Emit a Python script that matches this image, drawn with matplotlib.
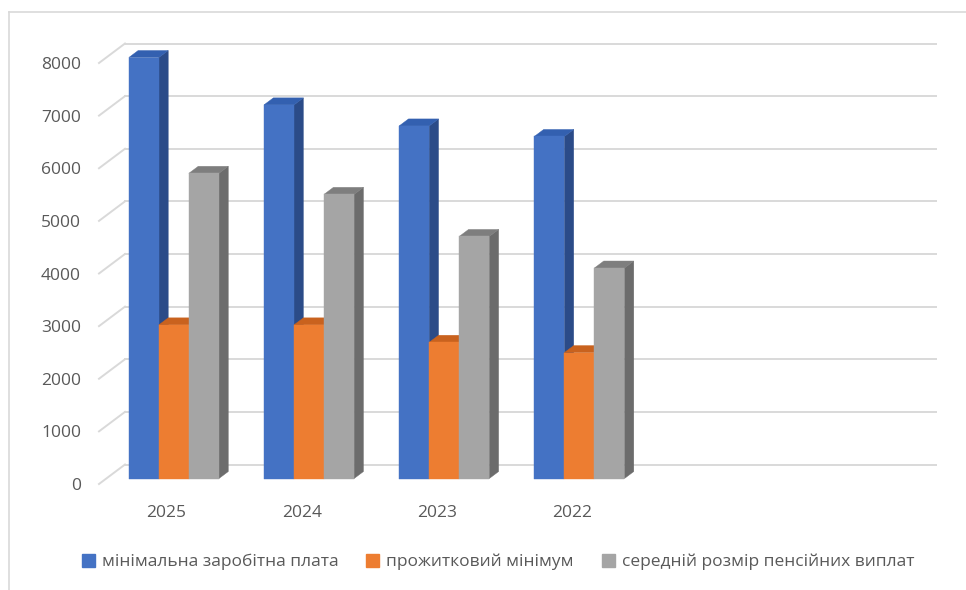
import matplotlib
matplotlib.use('Agg')
import matplotlib.pyplot as plt
from matplotlib.patches import Polygon, Patch
from matplotlib.lines import Line2D

# ---- data ----
years = ['2025', '2024', '2023', '2022']
series_names = ['мінімальна заробітна плата', 'прожитковий мінімум',
                'середній розмір пенсійних виплат']
min_wage = [8000, 7100, 6700, 6500]
subsistence = [2920, 2920, 2589, 2393]
pension = [5800, 5400, 4600, 4000]
y_ticks = [0, 1000, 2000, 3000, 4000, 5000, 6000, 7000, 8000]

# ---- style ----
front_colors = ['#4472C4', '#ED7D31', '#A5A5A5']
side_colors = ['#2B4B88', '#B0561A', '#6C6C6C']
top_colors = ['#3360B0', '#C9621E', '#7E7E7E']
grid_color = '#D9D9D9'
text_color = '#595959'
FONT = ['Open Sans', 'DejaVu Sans']
plt.rcParams['font.family'] = FONT

N_SLOTS = 6            # category slots on the axis (last two empty)
DEPTH_PX = (26, 19.5)  # pseudo-3D depth offset in pixels
D_FRONT, D_BACK = 0.28, 0.64

W, H, DPI = 966, 590, 100
fig = plt.figure(figsize=(W / DPI, H / DPI), dpi=DPI)
ax_left, ax_right, ax_bottom, ax_top = 99, 910, 484, 63
ax = fig.add_axes([ax_left / W, 1 - ax_bottom / H,
                   (ax_right - ax_left) / W, (ax_bottom - ax_top) / H])
ax.set_xlim(0, N_SLOTS)
ax.set_ylim(0, 8000)

p0 = ax.transData.transform((0, 0))
p1 = ax.transData.transform((1, 1000))
ddx = DEPTH_PX[0] / (p1[0] - p0[0])
ddy = DEPTH_PX[1] / ((p1[1] - p0[1]) / 1000)


def P(x, y, d):
    return (x + d * ddx, y + d * ddy)


# gridlines: back wall + side wall diagonals
for t in y_ticks:
    a, b = P(0, t, 1), P(N_SLOTS, t, 1)
    ax.add_line(Line2D([a[0], b[0]], [a[1], b[1]], color=grid_color, lw=1.4,
                       zorder=1, clip_on=False))
    c = P(0, t, 0)
    ax.add_line(Line2D([c[0], a[0]], [c[1], a[1]], color=grid_color, lw=1.4,
                       zorder=1, clip_on=False))

series = [min_wage, subsistence, pension]
bw = (2 / 3) / 3
for k in range(len(years)):
    for s, vals in enumerate(series):
        v = vals[k]
        x0 = k + 1 / 6 + s * bw
        x1 = x0 + bw
        z = 2 + k * 3 + s
        side = [P(x1, 0, D_FRONT), P(x1, 0, D_BACK), P(x1, v, D_BACK), P(x1, v, D_FRONT)]
        top = [P(x0, v, D_FRONT), P(x1, v, D_FRONT), P(x1, v, D_BACK), P(x0, v, D_BACK)]
        front = [P(x0, 0, D_FRONT), P(x1, 0, D_FRONT), P(x1, v, D_FRONT), P(x0, v, D_FRONT)]
        for pts, col in ((side, side_colors[s]), (top, top_colors[s]), (front, front_colors[s])):
            ax.add_patch(Polygon(pts, closed=True, facecolor=col, edgecolor=col,
                                 lw=0.3, zorder=z, clip_on=False))

for sp in ax.spines.values():
    sp.set_visible(False)
ax.set_yticks(y_ticks)
ax.set_yticklabels([str(t) for t in y_ticks])
ax.set_xticks([k + 0.5 for k in range(len(years))])
ax.set_xticklabels(years)
ax.tick_params(axis='y', length=0, pad=13, labelsize=12.5, labelcolor=text_color)
ax.tick_params(axis='x', length=0, pad=15, labelsize=12.5, labelcolor=text_color)
ax.set_facecolor('none')

# outer chart border (left and top)
fig.add_artist(Line2D([9 / W, 9 / W], [0, 1 - 12 / H], color=grid_color, lw=1.2,
                      transform=fig.transFigure))
fig.add_artist(Line2D([9 / W, 1], [1 - 12 / H, 1 - 12 / H], color=grid_color, lw=1.2,
                      transform=fig.transFigure))

handles = [Patch(facecolor=c, edgecolor=c) for c in front_colors]
fig.legend(handles, series_names, loc='center', bbox_to_anchor=(498 / W, 1 - 562 / H),
           ncol=3, frameon=False, fontsize=12.5, labelcolor=text_color,
           handlelength=0.75, handleheight=0.75, handletextpad=0.4, columnspacing=1.6)

fig.savefig('out.png', dpi=DPI)
